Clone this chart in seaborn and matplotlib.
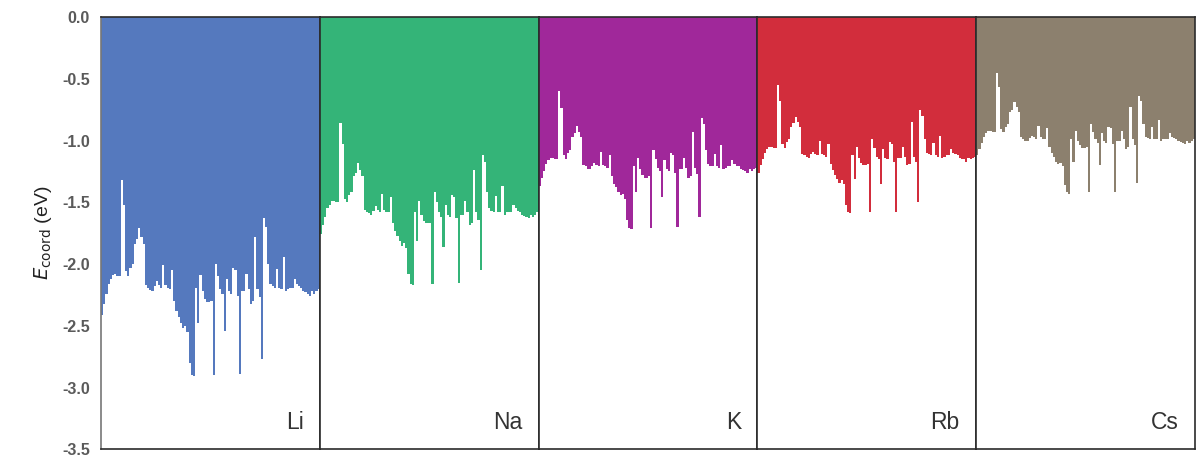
import numpy as np
import pandas as pd
import matplotlib
matplotlib.use("Agg")
import matplotlib.pyplot as plt
import seaborn as sns

# Coordination energies (eV) of the alkali ion at each site, one list per metal
elements = ["Li", "Na", "K", "Rb", "Cs"]
colors = ["#5579BE", "#34B478", "#A0289A", "#D22D3C", "#8C806E"]

li_e = [-2.41, -2.32, -2.24, -2.16, -2.12, -2.09, -2.08, -2.10, -2.10, -1.32,
        -1.52, -2.06, -2.10, -2.03, -2.00, -1.84, -1.80, -1.71, -1.78, -1.84,
        -2.17, -2.19, -2.21, -2.22, -2.18, -2.14, -2.17, -2.19, -2.01, -2.17,
        -2.19, -2.20, -2.05, -2.30, -2.38, -2.43, -2.48, -2.52, -2.50, -2.55,
        -2.80, -2.90, -2.91, -2.19, -2.48, -2.09, -2.22, -2.28, -2.31, -2.31,
        -2.30, -2.90, -2.00, -2.10, -2.20, -2.24, -2.54, -2.12, -2.22, -2.24,
        -2.03, -2.05, -2.26, -2.89, -2.22, -2.22, -2.08, -2.20, -2.32, -2.30,
        -1.78, -2.20, -2.27, -2.77, -1.63, -1.70, -2.00, -2.16, -2.18, -2.19,
        -2.04, -2.19, -2.20, -1.94, -2.22, -2.20, -2.19, -2.19, -2.12, -2.16,
        -2.18, -2.19, -2.22, -2.23, -2.24, -2.26, -2.22, -2.24, -2.22, -2.20]

na_e = [-1.76, -1.68, -1.62, -1.55, -1.52, -1.49, -1.49, -1.50, -1.50, -0.86,
        -1.03, -1.47, -1.50, -1.44, -1.42, -1.29, -1.26, -1.18, -1.24, -1.29,
        -1.56, -1.58, -1.59, -1.60, -1.57, -1.53, -1.56, -1.58, -1.43, -1.56,
        -1.58, -1.58, -1.46, -1.67, -1.73, -1.77, -1.81, -1.85, -1.83, -1.87,
        -2.08, -2.16, -2.17, -1.58, -1.81, -1.49, -1.60, -1.65, -1.67, -1.67,
        -1.67, -2.16, -1.42, -1.50, -1.58, -1.62, -1.86, -1.52, -1.60, -1.62,
        -1.44, -1.46, -1.63, -2.15, -1.60, -1.60, -1.49, -1.58, -1.68, -1.67,
        -1.24, -1.58, -1.64, -2.05, -1.12, -1.17, -1.42, -1.55, -1.57, -1.58,
        -1.45, -1.58, -1.58, -1.37, -1.60, -1.58, -1.58, -1.58, -1.52, -1.55,
        -1.57, -1.58, -1.60, -1.61, -1.62, -1.63, -1.60, -1.62, -1.60, -1.58]

k_e = [-1.37, -1.30, -1.25, -1.19, -1.16, -1.14, -1.14, -1.15, -1.15, -0.60,
       -0.74, -1.12, -1.15, -1.10, -1.08, -0.97, -0.94, -0.88, -0.93, -0.97,
       -1.20, -1.21, -1.23, -1.23, -1.21, -1.18, -1.20, -1.21, -1.09, -1.20,
       -1.21, -1.22, -1.12, -1.29, -1.35, -1.38, -1.42, -1.44, -1.43, -1.47,
       -1.64, -1.71, -1.72, -1.21, -1.42, -1.14, -1.23, -1.28, -1.30, -1.30,
       -1.29, -1.71, -1.08, -1.15, -1.22, -1.25, -1.46, -1.16, -1.23, -1.25,
       -1.10, -1.12, -1.26, -1.70, -1.23, -1.23, -1.14, -1.22, -1.30, -1.29,
       -0.93, -1.22, -1.27, -1.62, -0.82, -0.87, -1.08, -1.19, -1.21, -1.21,
       -1.11, -1.21, -1.22, -1.04, -1.23, -1.22, -1.21, -1.21, -1.16, -1.19,
       -1.21, -1.21, -1.23, -1.24, -1.25, -1.26, -1.23, -1.25, -1.23, -1.22]

rb_e = [-1.26, -1.20, -1.15, -1.10, -1.07, -1.05, -1.05, -1.06, -1.06, -0.55,
        -0.68, -1.03, -1.06, -1.01, -0.99, -0.89, -0.86, -0.81, -0.85, -0.89,
        -1.11, -1.12, -1.13, -1.14, -1.11, -1.09, -1.11, -1.12, -1.00, -1.11,
        -1.12, -1.13, -1.03, -1.19, -1.24, -1.28, -1.31, -1.34, -1.32, -1.35,
        -1.52, -1.58, -1.59, -1.12, -1.31, -1.05, -1.14, -1.18, -1.20, -1.20,
        -1.19, -1.58, -0.99, -1.06, -1.13, -1.15, -1.35, -1.07, -1.14, -1.15,
        -1.01, -1.03, -1.17, -1.58, -1.14, -1.14, -1.05, -1.13, -1.20, -1.19,
        -0.85, -1.13, -1.17, -1.50, -0.75, -0.80, -0.99, -1.10, -1.11, -1.12,
        -1.02, -1.12, -1.13, -0.96, -1.14, -1.13, -1.12, -1.12, -1.07, -1.10,
        -1.11, -1.12, -1.14, -1.15, -1.15, -1.17, -1.14, -1.15, -1.14, -1.13]

cs_e = [-1.12, -1.07, -1.02, -0.97, -0.94, -0.92, -0.92, -0.93, -0.93, -0.45,
        -0.57, -0.91, -0.93, -0.89, -0.87, -0.77, -0.75, -0.69, -0.73, -0.77,
        -0.97, -0.99, -1.00, -1.00, -0.98, -0.96, -0.97, -0.99, -0.88, -0.97,
        -0.99, -0.99, -0.90, -1.05, -1.10, -1.13, -1.17, -1.19, -1.18, -1.21,
        -1.36, -1.42, -1.43, -0.99, -1.17, -0.92, -1.00, -1.04, -1.06, -1.06,
        -1.05, -1.42, -0.87, -0.93, -0.99, -1.02, -1.20, -0.94, -1.00, -1.02,
        -0.89, -0.90, -1.03, -1.42, -1.00, -1.00, -0.92, -0.99, -1.07, -1.05,
        -0.73, -0.99, -1.04, -1.34, -0.64, -0.68, -0.87, -0.97, -0.98, -0.99,
        -0.89, -0.99, -0.99, -0.83, -1.00, -0.99, -0.99, -0.99, -0.94, -0.97,
        -0.98, -0.99, -1.00, -1.01, -1.02, -1.03, -1.00, -1.02, -1.00, -0.99]

series = [li_e, na_e, k_e, rb_e, cs_e]
y_ticks = [0.0, -0.5, -1.0, -1.5, -2.0, -2.5, -3.0, -3.5]

sns.set_theme(style="white")
plt.rcParams["font.family"] = ["Liberation Sans", "DejaVu Sans"]

fig, axes = plt.subplots(1, 5, sharey=True, figsize=(12.01, 4.59), dpi=100)
fig.subplots_adjust(left=0.0841, right=0.995, top=0.963, bottom=0.021, wspace=0)

for ax, name, col, vals in zip(axes, elements, colors, series):
    df = pd.DataFrame({"site": np.arange(len(vals)), "E": vals})
    sns.barplot(data=df, x="site", y="E", color=col, saturation=1,
                width=1.0, linewidth=0, ax=ax, errorbar=None)
    ax.set_xticks([])
    ax.set_xlabel("")
    ax.set_ylabel("")
    ax.set_ylim(-3.5, 0.0)
    for sp in ax.spines.values():
        sp.set_visible(True)
        sp.set_color("#2b2b2b")
        sp.set_linewidth(1.2)
    ax.text(0.925, 0.035, name, transform=ax.transAxes, ha="right", va="bottom",
            fontsize=16.5, color="#333333")
    ax.tick_params(axis="y", length=0)

axes[0].spines["left"].set_color("#777777")
axes[0].set_yticks(y_ticks)
axes[0].set_yticklabels([f"{t:.1f}" for t in y_ticks],
                        fontsize=11.5, fontweight="bold", color="#5a5a5a")
axes[0].tick_params(axis="y", pad=8)
axes[0].set_ylabel(r"$E_{\mathrm{coord}}$ (eV)", fontsize=14, color="#222222",
                   labelpad=6)

fig.savefig("out.png", dpi=100)
